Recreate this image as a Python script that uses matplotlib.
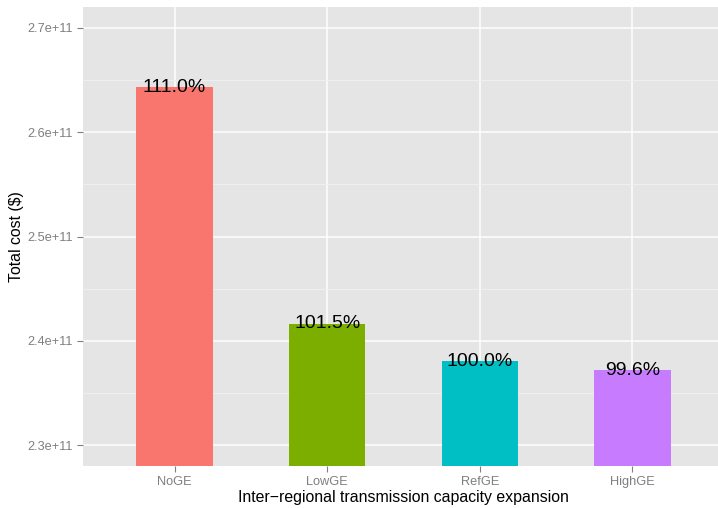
import matplotlib
matplotlib.use("Agg")
import matplotlib.pyplot as plt
from matplotlib.ticker import FuncFormatter, MultipleLocator

plt.rcParams["font.family"] = ["Liberation Sans", "DejaVu Sans"]

scenarios = ["NoGE", "LowGE", "RefGE", "HighGE"]
total_cost = [2.6433e11, 2.4162e11, 2.3804e11, 2.3719e11]
pct_labels = ["111.0%", "101.5%", "100.0%", "99.6%"]
bar_colors = ["#F8766D", "#7CAE00", "#00BFC4", "#C77CFF"]

W, H = 718, 508
fig = plt.figure(figsize=(W / 100, H / 100), dpi=100)
# panel runs a little past the right edge of the image
ax = fig.add_axes([83 / W, (H - 466) / H, (724 - 83) / W, (466 - 7) / H])
ax.set_facecolor("#E5E5E5")

x = list(range(1, len(scenarios) + 1))
ax.bar(x, total_cost, width=0.5, color=bar_colors, zorder=2)
for xi, v, lab in zip(x, total_cost, pct_labels):
    ax.text(xi, v, lab, ha="center", va="center", fontsize=14, color="black", zorder=3)

# coord_cartesian(ylim = c(2.3e11, 2.7e11)) with default 5% expansion
ax.set_ylim(2.28e11, 2.72e11)
ax.set_xlim(0.4, 4.6)
ax.set_xticks(x)
ax.set_xticklabels(scenarios)
ax.yaxis.set_major_locator(MultipleLocator(1e10))
ax.yaxis.set_minor_locator(MultipleLocator(5e9))
ax.yaxis.set_major_formatter(FuncFormatter(lambda v, p: f"{v:.1e}"))

ax.grid(which="major", color="white", lw=1.1, zorder=0)
ax.grid(which="minor", axis="y", color="#F2F2F2", lw=0.6, zorder=0)
ax.set_axisbelow(True)
for s in ax.spines.values():
    s.set_visible(False)
ax.tick_params(which="major", length=4, width=0.8, color="#7F7F7F",
               labelcolor="#7F7F7F", labelsize=9.2, pad=3.5)
ax.tick_params(which="minor", length=0)

ax.set_xlabel("Inter\u2212regional transmission capacity expansion", fontsize=11.4, labelpad=1)
ax.set_ylabel("Total cost ($)", fontsize=11.4, labelpad=2)

fig.savefig("out.png", dpi=100)
